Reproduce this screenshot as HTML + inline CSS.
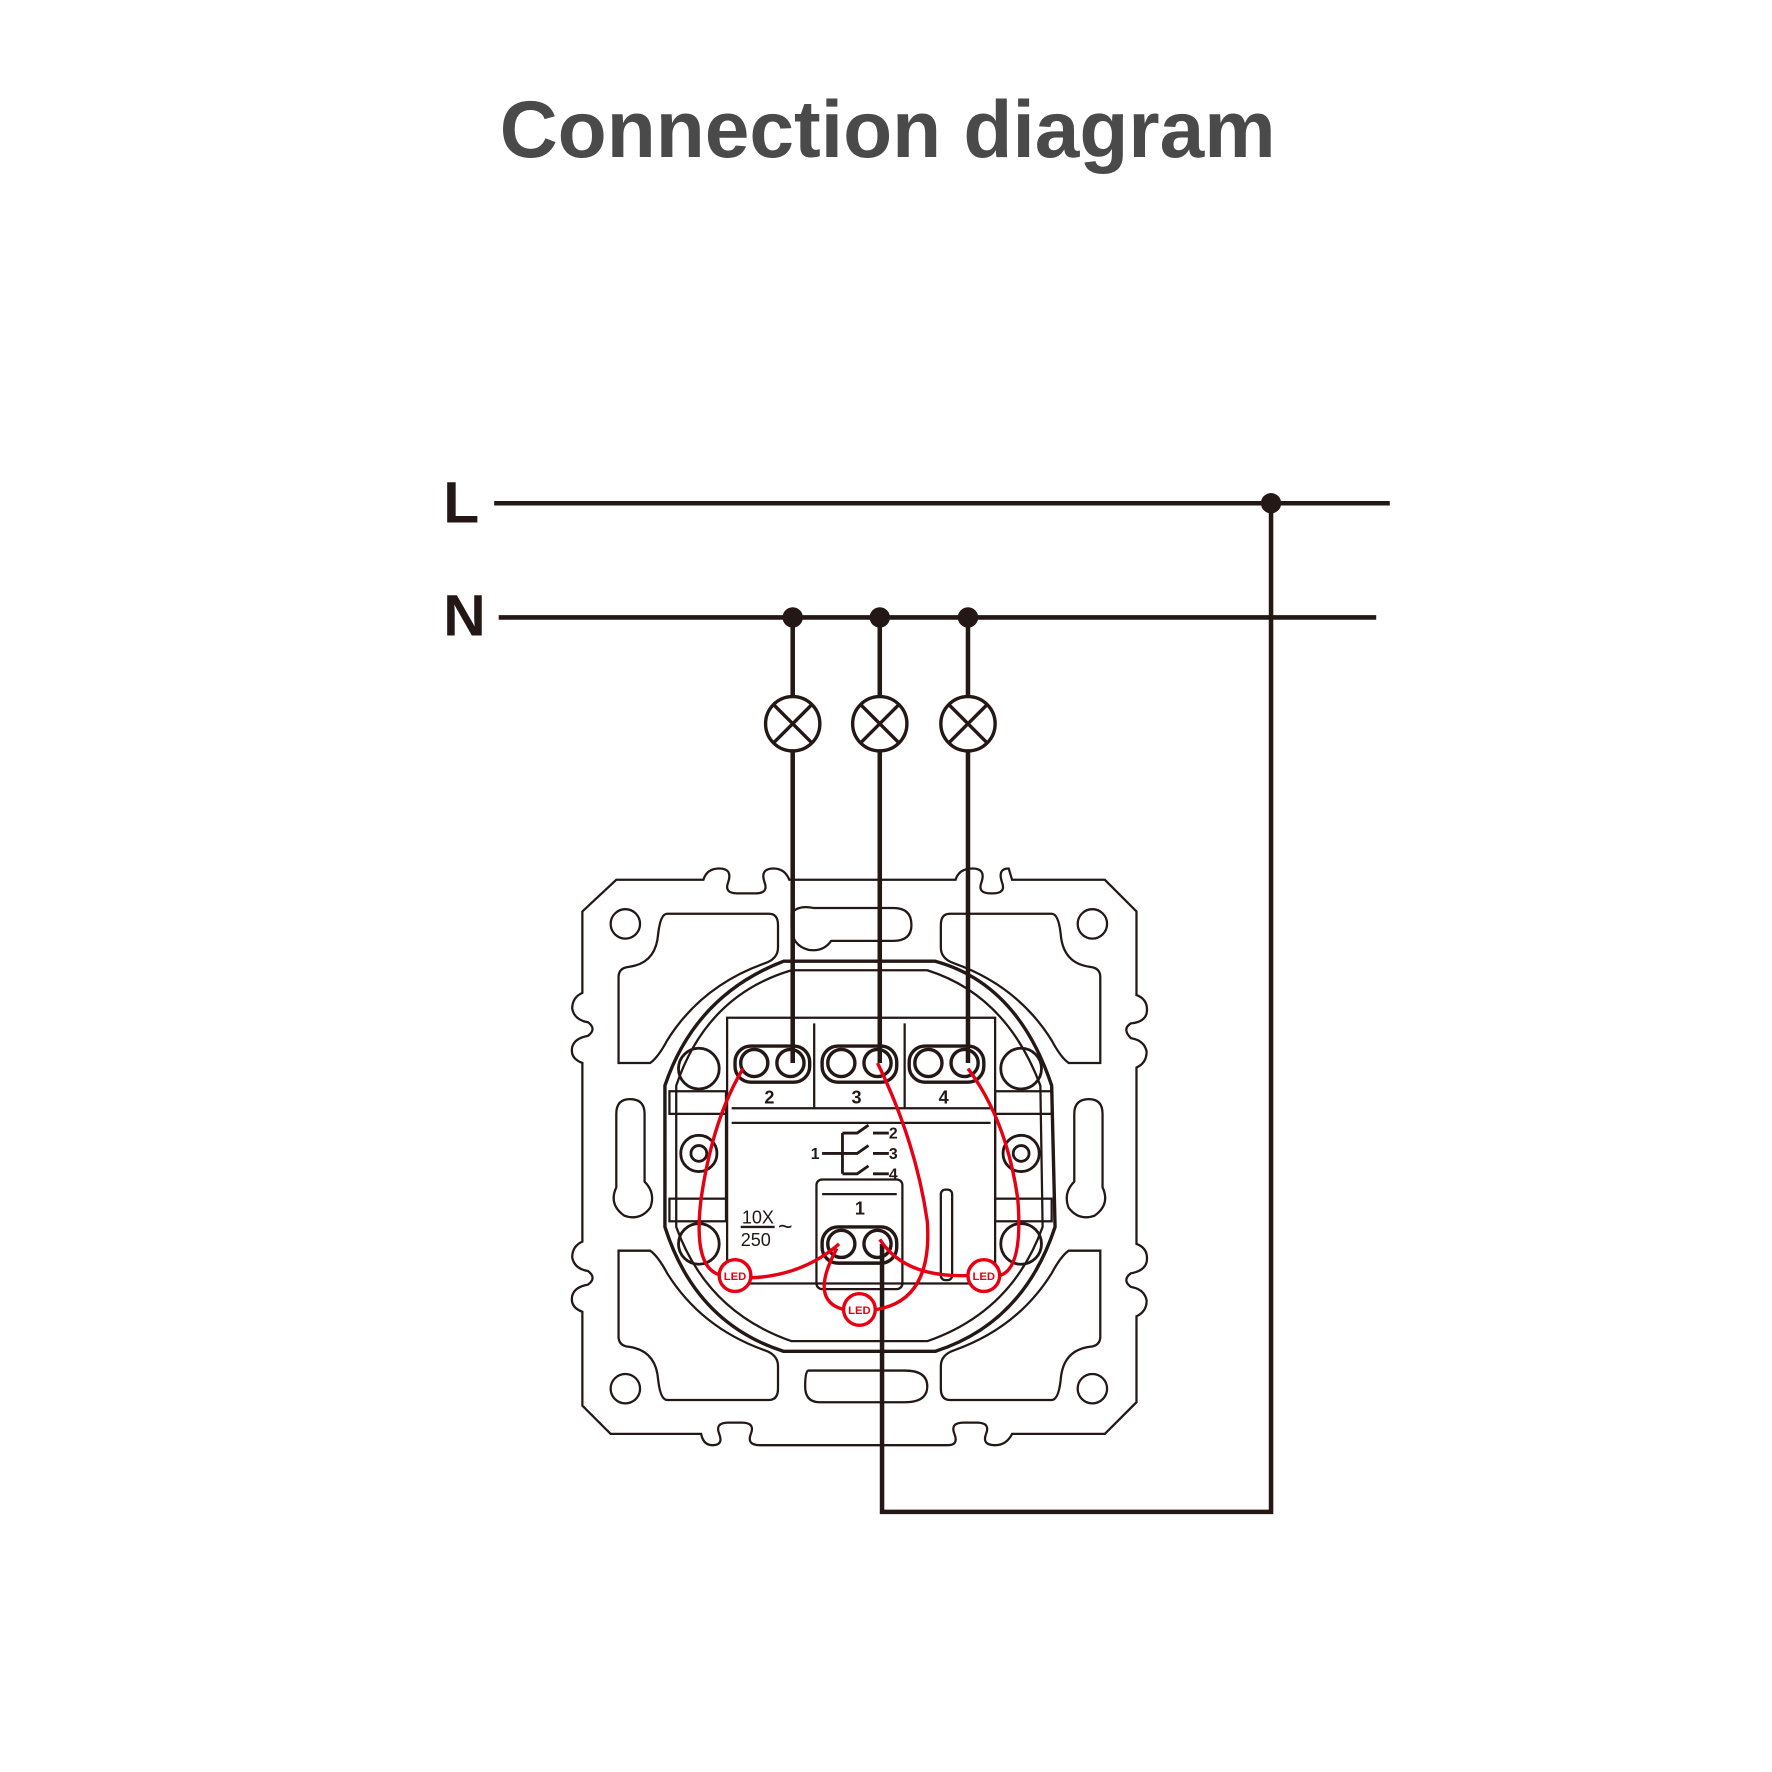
<!DOCTYPE html>
<html><head><meta charset="utf-8"><style>
html,body{margin:0;padding:0;background:#fff;}
svg{display:block;}
</style></head><body>
<svg width="1772" height="1772" viewBox="0 0 1567 1567" xmlns="http://www.w3.org/2000/svg">
<text x="785" y="139" text-anchor="middle" font-family="Liberation Sans, sans-serif" font-weight="bold" font-size="71" fill="#4a4a4a">Connection diagram</text>
<text x="392" y="462" font-family="Liberation Sans, sans-serif" font-weight="bold" font-size="52" fill="#231815">L</text>
<text x="392" y="562" font-family="Liberation Sans, sans-serif" font-weight="bold" font-size="52" fill="#231815">N</text>
<g stroke="#231815" stroke-width="4" fill="none">
<line x1="437" y1="445" x2="1229" y2="445"/>
<line x1="441" y1="546" x2="1217" y2="546"/>
<polyline points="1124,445 1124,1337 780,1337 780,1100"/>
<line x1="701" y1="546" x2="701" y2="940"/>
<line x1="778" y1="546" x2="778" y2="940"/>
<line x1="856" y1="546" x2="856" y2="940"/>
</g>
<g fill="#231815">
<circle cx="1124" cy="445" r="9"/><circle cx="701" cy="546" r="9"/><circle cx="778" cy="546" r="9"/><circle cx="856" cy="546" r="9"/>
</g>
<g stroke="#231815" stroke-width="3" fill="#fff">
<circle cx="701" cy="640" r="24"/><circle cx="778" cy="640" r="24"/><circle cx="856" cy="640" r="24"/>
</g>
<g stroke="#231815" stroke-width="3">
<path d="M684,623 L718,657 M718,623 L684,657 M761,623 L795,657 M795,623 L761,657 M839,623 L873,657 M873,623 L839,657"/>
</g>
<g stroke="#231815" stroke-width="2" fill="none">
<path d="M545,778 L622,778 Q625,768 636,768 Q648,768 644,780 Q640,790 652,790 L668,790 Q680,790 676,780 Q672,768 684,768 Q694,768 698,778 L845,778 Q848,768 860,768 Q872,768 868,780 Q864,790 876,790 L878,790 Q890,790 886,780 Q882,768 892,768 L895,778 L977,778 L1005,806 L1005,880 Q1016,884 1014,896 Q1012,904 1000,905 Q992,910 1000,918 Q1012,920 1014,930 Q1014,940 1005,944 L1005,1100 Q1016,1104 1014,1116 Q1012,1124 1000,1126 Q992,1132 1000,1138 Q1012,1140 1014,1150 Q1014,1160 1005,1164 L1005,1240 L977,1268 L895,1268 Q890,1278 880,1278 Q868,1278 872,1268 Q876,1258 864,1258 L852,1258 Q840,1258 844,1268 Q848,1278 838,1278 L672,1278 Q660,1278 664,1268 Q668,1258 656,1258 L644,1258 Q632,1258 636,1268 Q640,1278 630,1278 Q622,1278 620,1268 L540,1268 L515,1243 L515,1160 Q504,1156 506,1146 Q508,1138 520,1136 Q528,1130 520,1124 Q508,1122 506,1112 Q506,1102 515,1098 L515,940 Q504,936 506,926 Q508,918 520,916 Q528,910 520,904 Q508,902 506,892 Q506,882 515,878 L515,806 Z"/>
<circle cx="553" cy="817" r="13"/><circle cx="966" cy="817" r="13"/><circle cx="553" cy="1228" r="13"/><circle cx="966" cy="1228" r="13"/>
<g id="win">
<path d="M590,808 L680,808 Q688,808 688,818 L688,838 Q688,848 676,852 Q620,872 590,920 Q582,935 575,940 L547,940 L547,864 Q547,856 556,855 Q580,852 582,826 Q584,808 590,808 Z"/>
</g>
<use href="#win" transform="translate(1520,0) scale(-1,1)"/>
<use href="#win" transform="translate(0,2046) scale(1,-1)"/>
<use href="#win" transform="translate(1520,2046) scale(-1,-1)"/>
<path d="M700,808 Q705,800 720,803 L790,803 Q806,803 806,818 Q806,832 790,832 L735,832 Q728,842 715,840 Q700,836 700,820 Z"/>
<path d="M715,1212 L800,1212 Q820,1212 820,1226 Q820,1240 800,1240 L725,1240 Q712,1240 712,1226 Q712,1212 715,1212 Z"/>
<path d="M545,985 Q545,972 557,972 Q570,972 570,985 L570,1045 Q580,1055 575,1068 Q566,1080 552,1075 Q538,1065 545,1050 Z"/>
<path d="M975,985 Q975,972 963,972 Q950,972 950,985 L950,1045 Q940,1055 945,1068 Q954,1080 968,1075 Q982,1065 975,1050 Z"/>
<path d="M693,850 L827,850 Q900,870 930,960 L933,1085 Q905,1170 827,1195 L693,1195 Q615,1170 588,1085 L588,960 Q615,880 693,850 Z" stroke-width="3"/>
<path d="M700,858 L820,858 Q890,880 920,960 L922,1085 Q895,1160 820,1186 L700,1186 Q625,1160 598,1085 L598,960 Q625,880 700,858 Z"/>
<rect x="643" y="900" width="237" height="235"/>
<line x1="647" y1="993" x2="876" y2="993"/>
<line x1="647" y1="980" x2="876" y2="980"/>
<line x1="720" y1="905" x2="720" y2="980"/><line x1="800" y1="905" x2="800" y2="980"/>
<g stroke-width="3">
<rect x="650" y="925" width="66" height="32" rx="14"/>
<rect x="727" y="925" width="66" height="32" rx="14"/>
<rect x="804" y="925" width="66" height="32" rx="14"/>
<circle cx="667" cy="940" r="12"/><circle cx="699" cy="940" r="12"/>
<circle cx="744" cy="940" r="12"/><circle cx="776" cy="940" r="12"/>
<circle cx="821" cy="940" r="12"/><circle cx="853" cy="940" r="12"/>
</g>
<rect x="722" y="1043" width="76" height="97" rx="5"/>
<line x1="727" y1="1056" x2="793" y2="1056"/>
<g stroke-width="3">
<rect x="727" y="1085" width="66" height="32" rx="14"/>
<circle cx="744" cy="1100" r="12"/><circle cx="776" cy="1100" r="12"/>
</g>
<rect x="832" y="1052" width="10" height="80" rx="4"/>
<g stroke-width="2.5">
<circle cx="618" cy="945" r="18"/><circle cx="618" cy="1020" r="16"/><circle cx="618" cy="1020" r="7"/><circle cx="618" cy="1100" r="18"/>
<circle cx="903" cy="945" r="18"/><circle cx="903" cy="1020" r="16"/><circle cx="903" cy="1020" r="7"/><circle cx="903" cy="1100" r="18"/>
</g>
<rect x="592" y="965" width="50" height="20"/><rect x="592" y="1060" width="50" height="20"/>
<rect x="880" y="965" width="50" height="20"/><rect x="880" y="1060" width="50" height="20"/>
<line x1="642" y1="985" x2="642" y2="1060"/><line x1="880" y1="985" x2="880" y2="1060"/>
<path d="M727,1020 L745,1020 M745,1002 L745,1038 M745,1002 L758,1002 L768,995 M745,1020 L758,1020 L768,1013 M745,1038 L758,1038 L768,1031 M772,1002 L786,1002 M772,1020 L786,1020 M772,1038 L786,1038" stroke-width="2.5"/>
<line x1="655" y1="1085" x2="685" y2="1085" stroke-width="2"/>
</g>
<g font-family="Liberation Sans, sans-serif" font-weight="bold" fill="#231815" font-size="16">
<text x="676" y="976">2</text><text x="753" y="976">3</text><text x="830" y="976">4</text>
<text x="756" y="1074">1</text>
<text x="786" y="1007" font-size="14">2</text><text x="786" y="1025" font-size="14">3</text><text x="786" y="1043" font-size="14">4</text>
<text x="717" y="1025" font-size="14">1</text>
<text x="656" y="1082" font-size="16" font-weight="normal">10X</text>
<text x="655" y="1102" font-size="16" font-weight="normal">250</text>
<text x="688" y="1092" font-size="22" font-weight="normal">~</text>
</g>
<g stroke="#e60012" stroke-width="3" fill="none">
<path d="M657,945 Q630,990 620,1060 Q612,1125 640,1128"/>
<path d="M664,1130 Q710,1128 742,1100"/>
<path d="M856,945 Q890,990 900,1060 Q905,1122 884,1128"/>
<path d="M856,1128 Q800,1130 778,1096"/>
<path d="M776,940 Q810,1010 820,1080 Q825,1150 775,1158"/>
<path d="M740,1104 Q715,1150 746,1158"/>
</g>
<g stroke="#e60012" stroke-width="3" fill="#fff">
<circle cx="650" cy="1128" r="14"/><circle cx="760" cy="1158" r="14"/><circle cx="870" cy="1128" r="14"/>
</g>
<g font-family="Liberation Sans, sans-serif" font-weight="bold" fill="#e60012" font-size="10" text-anchor="middle">
<text x="650" y="1132">LED</text><text x="760" y="1162">LED</text><text x="870" y="1132">LED</text>
</g>
</svg>
</body></html>
